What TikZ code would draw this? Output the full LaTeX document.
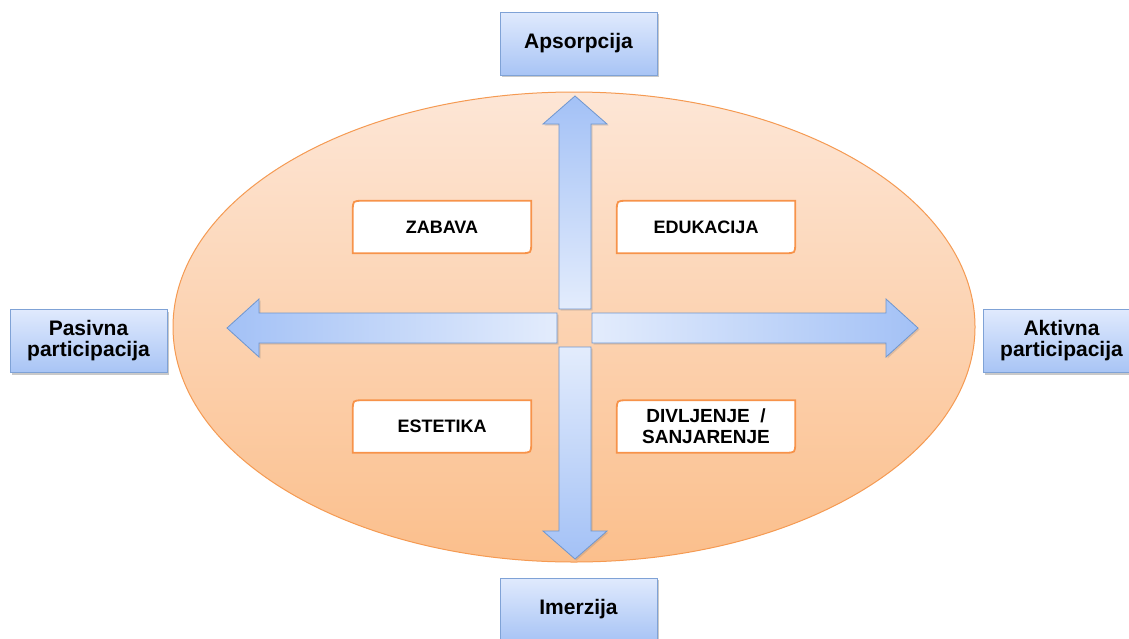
\documentclass[tikz,border=0pt]{standalone}
\usepackage{fontspec}
\setmainfont{Liberation Sans}
\usetikzlibrary{shadows,calc}
\pgfdeclarelayer{back}
\pgfsetlayers{back,main}
\definecolor{ellTop}{HTML}{FDE6D6}
\definecolor{ellBot}{HTML}{FBBF8C}
\definecolor{ellLine}{HTML}{F59A52}
\definecolor{boxTop}{HTML}{E0EAFD}
\definecolor{boxBot}{HTML}{A8C4F5}
\definecolor{boxLine}{HTML}{7FA2D6}
\definecolor{arrDark}{HTML}{A3C1F6}
\definecolor{arrLight}{HTML}{E3ECFC}
\definecolor{arrLine}{HTML}{6F96CF}
\definecolor{ibLine}{HTML}{F7934A}
\tikzset{
  outerbox/.style={draw=boxLine, line width=0.9pt, top color=boxTop, bottom color=boxBot,
    minimum width=157pt, minimum height=63pt, inner sep=0pt, align=center,
    font=\fontsize{21}{21}\selectfont\bfseries,
    drop shadow={shadow xshift=2pt, shadow yshift=-2pt, opacity=0.35, fill=black!60}},
  innerbox/.style={minimum width=178pt, minimum height=52pt, inner sep=0pt, align=center,
    font=\fontsize{18}{21}\selectfont\bfseries},
  ibshape/.style={draw=ibLine, line width=1.8pt, fill=white},
  arrowshape/.style={draw=arrLine, line width=0.8pt, line join=miter,
    drop shadow={shadow xshift=1.5pt, shadow yshift=-1.5pt, opacity=0.2, fill=black!60}},
}
\newcommand\diagbox[1]{%
  \filldraw[ibshape] ([yshift=-10pt]#1.north west) .. controls (#1.north west) .. ([xshift=10pt]#1.north west)
    -- (#1.north east) -- ([yshift=10pt]#1.south east) .. controls (#1.south east) .. ([xshift=-10pt]#1.south east)
    -- (#1.south west) -- cycle;}
\begin{document}
\begin{tikzpicture}[x=1pt,y=-1pt]
\useasboundingbox (0,0) rectangle (1129,638);
\clip (0,0) rectangle (1129,638);
\begin{pgfonlayer}{back}
\fill[white] (0,0) rectangle (1129,638);
% ellipse
\shade[top color=ellTop, bottom color=ellBot, draw=ellLine, line width=1pt] (574,327) ellipse (401 and 235);
% arrows
\shade[arrowshape, left color=arrDark, right color=arrLight]
  (557,313) -- (259,313) -- (259,299) -- (227,328) -- (259,357) -- (259,343) -- (557,343) -- cycle;
\shade[arrowshape, left color=arrLight, right color=arrDark]
  (592,313) -- (886,313) -- (886,299) -- (918,328) -- (886,357) -- (886,343) -- (592,343) -- cycle;
\shade[arrowshape, top color=arrDark, bottom color=arrLight]
  (559,309) -- (559,124) -- (543,124) -- (575,96) -- (607,124) -- (591,124) -- (591,309) -- cycle;
\shade[arrowshape, top color=arrLight, bottom color=arrDark]
  (559,347) -- (559,531) -- (543,531) -- (575,559) -- (607,531) -- (591,531) -- (591,347) -- cycle;
\end{pgfonlayer}
% inner boxes
\node[innerbox] (zabava) at (442,227) {ZABAVA};
\node[innerbox] (edukacija) at (706,227) {EDUKACIJA};
\node[innerbox] (estetika) at (442,426.5) {ESTETIKA};
\node[innerbox, font=\fontsize{19}{21}\selectfont\bfseries] (divljenje) at (706,426.5) {DIVLJENJE \ /\\SANJARENJE};
\begin{pgfonlayer}{back}
\diagbox{zabava}
\diagbox{edukacija}
\diagbox{estetika}
\diagbox{divljenje}
\end{pgfonlayer}
% outer boxes
\node[outerbox] (apsorpcija) at (578.5,43.5) {Apsorpcija};
\node[outerbox] (imerzija) at (578.5,609.5) {Imerzija};
\node[outerbox] (pasivna) at (88.5,341) {Pasivna\\participacija};
\node[outerbox] (aktivna) at (1061.5,341) {Aktivna\\participacija};
\end{tikzpicture}
\end{document}
